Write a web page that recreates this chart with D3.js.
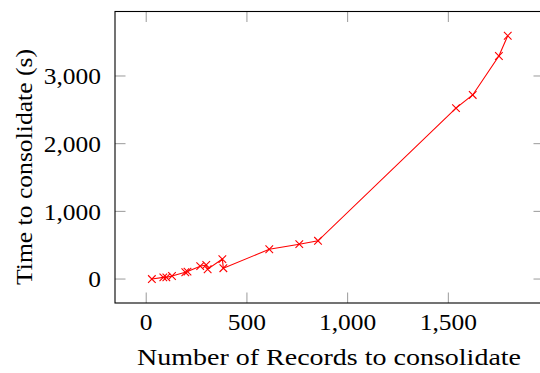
<!DOCTYPE html>
<html>
<head>
<meta charset="utf-8">
<script src="https://cdn.jsdelivr.net/npm/d3@7"></script>
<style>
html,body{margin:0;padding:0;background:#fff;}
svg{display:block;}
text{font-family:"Liberation Serif","Times New Roman",serif;fill:#000;}
</style>
</head>
<body>
<svg id="chart" width="540" height="373"></svg>
<script>
const records = [28, 85, 100, 128, 194, 205, 268, 298, 305, 378, 383, 611, 760, 853, 1538, 1621, 1751, 1795];
const seconds = [0, 25, 25, 45, 100, 110, 190, 210, 145, 295, 160, 440, 515, 565, 2525, 2720, 3295, 3595];
const xTicks = [0, 500, 1000, 1500];
const yTicks = [0, 1000, 2000, 3000];
const xTitle = "Number of Records to consolidate";
const yTitle = "Time to consolidate (s)";

const svg = d3.select("#chart");
const L = 115, R = 544, T = 11.5, B = 303;
const x = d3.scaleLinear().domain([-155, 1975]).range([L, R]);
const y = d3.scaleLinear().domain([-354, 3953]).range([B, T]);
const fmt = d3.format(",");
const data = records.map((r, i) => ({x: r, y: seconds[i]}));
const tickLen = 10.5, tickColor = "#9a9a9a";

// ticks (inside, mirrored)
const g = svg.append("g");
g.selectAll(".xtb").data(xTicks).join("line")
  .attr("x1", d => x(d)).attr("x2", d => x(d))
  .attr("y1", B).attr("y2", B - tickLen)
  .attr("stroke", tickColor).attr("stroke-width", 1);
g.selectAll(".xtt").data(xTicks).join("line")
  .attr("x1", d => x(d)).attr("x2", d => x(d))
  .attr("y1", T).attr("y2", T + tickLen)
  .attr("stroke", tickColor).attr("stroke-width", 1);
g.selectAll(".ytl").data(yTicks).join("line")
  .attr("x1", L).attr("x2", L + tickLen)
  .attr("y1", d => y(d)).attr("y2", d => y(d))
  .attr("stroke", tickColor).attr("stroke-width", 1);
g.selectAll(".ytr").data(yTicks).join("line")
  .attr("x1", R).attr("x2", R - tickLen)
  .attr("y1", d => y(d)).attr("y2", d => y(d))
  .attr("stroke", tickColor).attr("stroke-width", 1);

// frame
svg.append("rect").attr("x", L).attr("y", T).attr("width", R - L).attr("height", B - T)
  .attr("fill", "none").attr("stroke", "#000").attr("stroke-width", 1.1);

// tick labels
svg.selectAll(".xl").data(xTicks).join("text")
  .attr("transform", d => `translate(${x(d)},330) scale(1.06,1)`)
  .attr("text-anchor", "middle").attr("font-size", 24)
  .text(d => fmt(d));
svg.selectAll(".yl").data(yTicks).join("text")
  .attr("transform", d => `translate(101,${y(d)}) scale(1.06,1)`)
  .attr("dy", "0.35em")
  .attr("text-anchor", "end").attr("font-size", 24)
  .text(d => fmt(d));

// titles
svg.append("text").attr("x", 329).attr("y", 365)
  .attr("text-anchor", "middle").attr("font-size", 24)
  .attr("textLength", 384).attr("lengthAdjust", "spacingAndGlyphs")
  .text(xTitle);
svg.append("text").attr("transform", `translate(32,167) rotate(-90)`)
  .attr("text-anchor", "middle").attr("font-size", 24)
  .attr("textLength", 236).attr("lengthAdjust", "spacingAndGlyphs")
  .text(yTitle);

// line
const line = d3.line().x(d => x(d.x)).y(d => y(d.y));
svg.append("path").datum(data).attr("d", line)
  .attr("fill", "none").attr("stroke", "#ff0000").attr("stroke-width", 1.1);

// markers
const s = 3.8;
const mk = svg.append("g").attr("stroke", "#ff0000").attr("stroke-width", 1.1);
mk.selectAll("path").data(data).join("path")
  .attr("d", d => {
    const cx = x(d.x), cy = y(d.y);
    return `M${cx - s},${cy - s}L${cx + s},${cy + s}M${cx - s},${cy + s}L${cx + s},${cy - s}`;
  });
</script>
</body>
</html>
